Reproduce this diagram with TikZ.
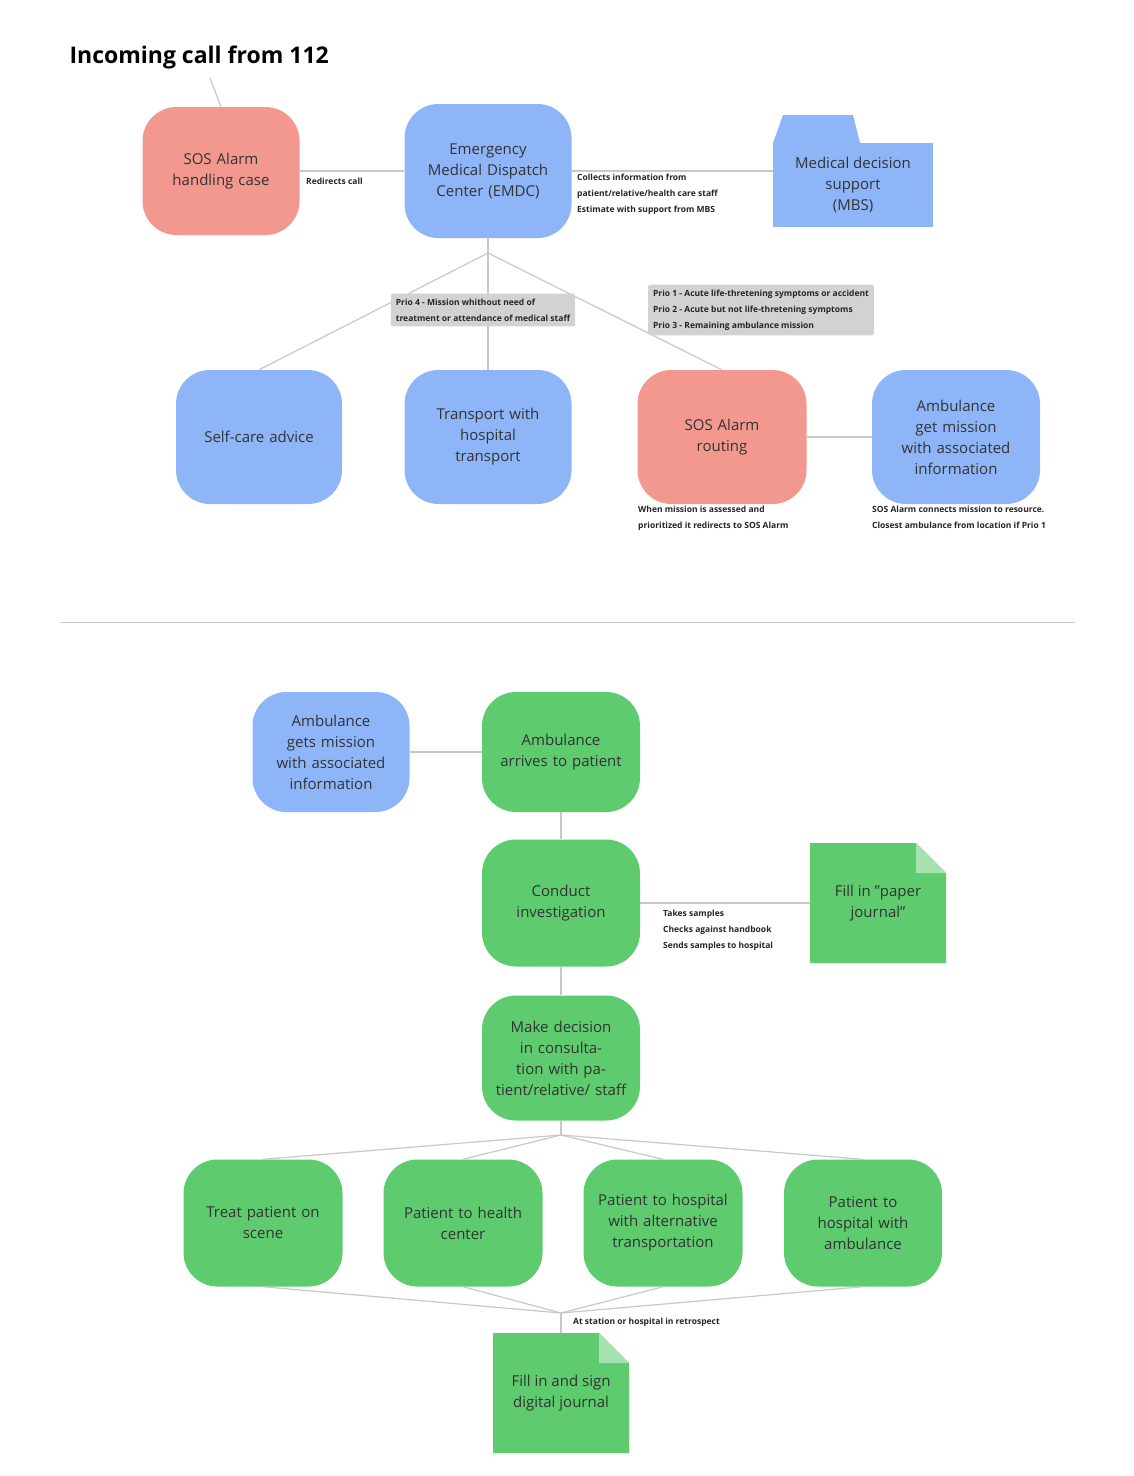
\documentclass[tikz,border=0pt]{standalone}
\usepackage{fontspec}
\setmainfont{Open Sans}
\usetikzlibrary{positioning,calc}
\definecolor{sosred}{HTML}{F2988E}
\definecolor{emblue}{HTML}{8DB5F8}
\definecolor{amgreen}{HTML}{5DCB6E}
\definecolor{linegray}{HTML}{C8C8C8}
\definecolor{boxgray}{HTML}{D2D2D2}
\tikzset{
	card/.style={rounded corners=34pt,minimum width=160pt,minimum height=128pt,align=center,text width=135pt,font=\fontsize{15}{21}\selectfont,text=black!80},
	sosbox/.style={card,fill=sosred},
	embox/.style={card,fill=emblue},
	ambox/.style={card,fill=amgreen},
	link/.style={draw=linegray,line width=1.2pt},
	note/.style={font=\fontsize{8.5}{16}\selectfont\bfseries,align=left,text=black!85,inner sep=0pt},
	prio/.style={note,fill=boxgray,rounded corners=2pt,inner sep=5pt},
}
\newcommand{\docshape}[1]{% center
	\fill[amgreen] ($(#1)+(-68,-60)$) -- ($(#1)+(38,-60)$) -- ($(#1)+(68,-30)$) -- ($(#1)+(68,60)$) -- ($(#1)+(-68,60)$) -- cycle;
	\fill[amgreen!55!white] ($(#1)+(38,-60)$) -- ($(#1)+(68,-30)$) -- ($(#1)+(38,-30)$) -- cycle;
}
\begin{document}
\begin{tikzpicture}[x=1pt,y=-1pt]
	\useasboundingbox (0,0) rectangle (1134,1476);
	\fill[white] (0,0) rectangle (1134,1476);

	% upper part
	\node[anchor=west,font=\fontsize{23}{26}\selectfont\bfseries] (title) at (66,57) {Incoming call from 112};
	\node[sosbox,minimum width=157pt] (sos) at (221,171) {SOS Alarm\\handling case};
	\node[embox,minimum width=167pt,minimum height=134pt] (emdc) at (488,171) {Emergency Medical Dispatch Center (EMDC)};
	\fill[emblue] (773,143) rectangle (933,227);
	\fill[emblue] (773,143) -- (783,115) -- (853,115) -- (860,143) -- cycle;
	\node[align=center,font=\fontsize{15}{21}\selectfont,text=black!80] (mbs) at (853,185) {Medical decision\\support\\(MBS)};
	\coordinate (mbsw) at (773,171);
	\coordinate (split) at (488,253);
	\coordinate (t1) at (210,78);
	\node[embox,minimum width=166pt,minimum height=134pt] (self) at (259,437) {Self-care advice};
	\node[embox,minimum width=167pt,minimum height=134pt] (trans) at (488,437) {Transport with\\hospital\\transport};
	\node[sosbox,minimum width=169pt,minimum height=134pt] (route) at (722,437) {SOS Alarm\\routing};
	\node[embox,minimum width=168pt,minimum height=134pt] (amb) at (956,437) {Ambulance get mission with associated information};

	\draw[link] (t1) -- (sos.north);
	\draw[link] (sos) -- (emdc);
	\draw[link] (emdc) -- (mbsw);
	\draw[link] (emdc) -- (split);
	\draw[link] (split) -- (self.north);
	\draw[link] (split) -- (trans.north);
	\draw[link] (split) -- (route.north);
	\draw[link] (route) -- (amb);

	\node[note,anchor=west] at (306,181) {Redirects call};
	\node[note,anchor=north west] at (577,174) {Collects information from\\patient/relative/health care staff\\Estimate with support from MBS};
	\node[prio] at (483,310) {Prio 4 - Mission whithout need of\\treatment or attendance of medical staff};
	\node[prio] at (761,310) {Prio 1 - Acute life-thretening symptoms or accident\\Prio 2 - Acute but not life-thretening symptoms\\Prio 3 - Remaining ambulance mission};
	\node[note,anchor=north west] at (638,506) {When mission is assessed and\\prioritized it redirects to SOS Alarm};
	\node[note,anchor=north west] at (872,506) {SOS Alarm connects mission to resource.\\Closest ambulance from location if Prio 1};

	\draw[draw=black!20,line width=1pt] (60,622) -- (1075,622);

	% lower part
	\node[embox,minimum width=157pt,minimum height=120pt] (gets) at (331,752) {Ambulance gets mission with associated information};
	\node[ambox,minimum width=158pt,minimum height=120pt] (arrive) at (561,752) {Ambulance\\arrives to patient};
	\node[ambox,minimum width=158pt,minimum height=127pt] (invest) at (561,903) {Conduct\\investigation};
	\docshape{878,903}
	\node[align=center,font=\fontsize{15}{21}\selectfont,text=black!80] (paper) at (878,903) {Fill in "paper\\journal"};
	\coordinate (paperw) at (810,903);
	\node[ambox,minimum width=158pt,minimum height=125pt] (decide) at (561,1058) {Make decision in consultation with patient/relative/ staff};
	\coordinate (fan) at (561,1135);
	\node[ambox,minimum width=159pt,minimum height=127pt] (treat) at (263,1223) {Treat patient on\\scene};
	\node[ambox,minimum width=159pt,minimum height=127pt] (health) at (463,1223) {Patient to health\\center};
	\node[ambox,minimum width=159pt,minimum height=127pt] (alt) at (663,1223) {Patient to hospital with alternative transportation};
	\node[ambox,minimum width=158pt,minimum height=127pt] (hosp) at (863,1223) {Patient to\\hospital with\\ambulance};
	\coordinate (join) at (561,1313);
	\docshape{561,1393}
	\node[align=center,font=\fontsize{15}{21}\selectfont,text=black!80] (digital) at (561,1393) {Fill in and sign\\digital journal};
	\coordinate (digitaln) at (561,1333);

	\draw[link] (gets) -- (arrive);
	\draw[link] (arrive) -- (invest);
	\draw[link] (invest) -- (paperw);
	\draw[link] (invest) -- (decide);
	\draw[link] (decide) -- (fan);
	\foreach \n in {treat,health,alt,hosp} {
		\draw[link] (fan) -- (\n.north);
		\draw[link] (\n.south) -- (join);
	}
	\draw[link] (join) -- (digitaln);

	\node[note,anchor=north west] at (663,910) {Takes samples\\Checks against handbook\\Sends samples to hospital};
	\node[note,anchor=west] at (573,1322) {At station or hospital in retrospect};
\end{tikzpicture}
\end{document}
